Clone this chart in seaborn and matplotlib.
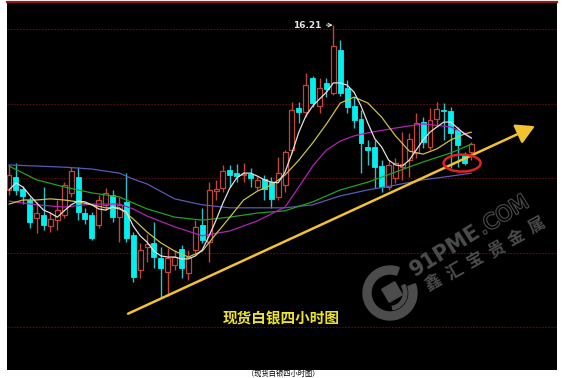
import matplotlib
matplotlib.use("Agg")
import numpy as np
import pandas as pd
import matplotlib.pyplot as plt
import seaborn as sns
from matplotlib.patches import Rectangle, Ellipse, Wedge, Polygon
import matplotlib.patheffects as pe

# ---------------- data ----------------
opens = [15.769, 15.803, 15.772, 15.742, 15.694, 15.702, 15.672, 15.688, 15.702, 15.761,
         15.803, 15.707, 15.702, 15.675, 15.729, 15.756, 15.696, 15.737, 15.649, 15.554,
         15.616, 15.627, 15.587, 15.549, 15.568, 15.611, 15.546, 15.608, 15.675, 15.630,
         15.766, 15.775, 15.822, 15.814, 15.809, 15.811, 15.777, 15.798, 15.791, 15.750,
         15.783, 15.876, 15.989, 15.978, 16.069, 15.994, 16.056, 16.029, 16.144, 16.043,
         15.994, 15.959, 15.884, 15.884, 15.833, 15.777, 15.801, 15.830, 15.849, 15.868,
         15.951, 15.884, 15.959, 15.983, 15.980, 15.930, 15.865, 15.871]
closes = [15.809, 15.769, 15.753, 15.683, 15.707, 15.675, 15.691, 15.715, 15.783, 15.819,
          15.710, 15.691, 15.641, 15.742, 15.761, 15.696, 15.729, 15.641, 15.535, 15.608,
          15.624, 15.589, 15.560, 15.587, 15.589, 15.560, 15.589, 15.669, 15.635, 15.769,
          15.772, 15.819, 15.809, 15.806, 15.811, 15.801, 15.796, 15.772, 15.745, 15.814,
          15.871, 15.983, 15.978, 16.051, 16.002, 16.043, 16.040, 16.155, 16.029, 15.991,
          15.956, 15.895, 15.876, 15.830, 15.777, 15.836, 15.841, 15.838, 15.906, 15.948,
          15.898, 15.956, 15.986, 15.980, 15.922, 15.890, 15.841, 15.892]
highs = [15.836, 15.841, 15.780, 15.750, 15.737, 15.777, 15.710, 15.742, 15.791, 15.830,
         15.830, 15.721, 15.710, 15.756, 15.775, 15.769, 15.750, 15.814, 15.657, 15.627,
         15.651, 15.683, 15.616, 15.614, 15.608, 15.622, 15.608, 15.688, 15.721, 15.791,
         15.796, 15.836, 15.836, 15.838, 15.841, 15.827, 15.806, 15.809, 15.803, 15.857,
         15.876, 16.005, 16.005, 16.082, 16.074, 16.069, 16.069, 16.211, 16.171, 16.064,
         16.018, 15.983, 15.903, 15.903, 15.849, 15.849, 15.855, 15.925, 15.922, 15.975,
         15.964, 15.989, 16.005, 16.002, 15.991, 15.937, 15.871, 15.898]
lows = [15.756, 15.756, 15.731, 15.667, 15.654, 15.662, 15.657, 15.662, 15.694, 15.750,
        15.688, 15.677, 15.635, 15.667, 15.715, 15.683, 15.630, 15.630, 15.523, 15.533,
        15.576, 15.560, 15.480, 15.485, 15.554, 15.533, 15.528, 15.600, 15.627, 15.576,
        15.742, 15.764, 15.777, 15.791, 15.791, 15.777, 15.769, 15.742, 15.721, 15.742,
        15.764, 15.868, 15.948, 15.964, 15.991, 15.975, 16.018, 16.024, 16.021, 15.975,
        15.935, 15.814, 15.836, 15.775, 15.764, 15.769, 15.788, 15.796, 15.803, 15.855,
        15.882, 15.876, 15.937, 15.903, 15.827, 15.830, 15.836, 15.849]

ma_white = [15.769, 15.788, 15.777, 15.755, 15.734, 15.715, 15.707, 15.696, 15.713, 15.729,
            15.739, 15.737, 15.729, 15.718, 15.715, 15.723, 15.718, 15.710, 15.672, 15.646,
            15.629, 15.605, 15.592, 15.589, 15.589, 15.584, 15.584, 15.592, 15.608, 15.646,
            15.688, 15.734, 15.774, 15.801, 15.814, 15.814, 15.806, 15.796, 15.790, 15.788,
            15.817, 15.868, 15.924, 15.967, 15.994, 16.013, 16.031, 16.056, 16.056, 16.050,
            16.031, 15.994, 15.948, 15.906, 15.884, 15.849, 15.836, 15.833, 15.849, 15.876,
            15.903, 15.924, 15.938, 15.951, 15.951, 15.935, 15.919, 15.908]

ma_yellow_idx = [0, 2, 4, 6, 8, 10, 12, 14, 16, 18, 20, 22, 24, 26, 28, 30, 32, 34, 36, 38,
                 40, 42, 44, 46, 48, 50, 52, 54, 56, 58, 60, 62, 64, 66, 67]
ma_yellow = [15.731, 15.742, 15.742, 15.745, 15.742, 15.737, 15.729, 15.721, 15.721, 15.691,
             15.656, 15.627, 15.605, 15.589, 15.605, 15.651, 15.696, 15.742, 15.766, 15.782,
             15.809, 15.849, 15.895, 15.946, 16.002, 16.018, 16.002, 15.964, 15.914, 15.873,
             15.865, 15.879, 15.903, 15.919, 15.924]

ma_magenta_idx = [0, 4, 8, 12, 16, 18, 20, 24, 28, 32, 36, 40, 42, 44, 46, 48, 50, 52, 56,
                  60, 64, 66, 67]
ma_magenta = [15.739, 15.729, 15.723, 15.731, 15.731, 15.718, 15.699, 15.670, 15.646, 15.659,
              15.686, 15.723, 15.777, 15.833, 15.876, 15.900, 15.914, 15.922, 15.935, 15.946,
              15.938, 15.922, 15.908]

ma_green_idx = [0, 4, 8, 12, 16, 20, 24, 28, 32, 36, 40, 44, 48, 52, 56, 60, 64, 67]
ma_green = [15.833, 15.796, 15.777, 15.761, 15.750, 15.718, 15.696, 15.688, 15.696, 15.707,
            15.713, 15.737, 15.769, 15.790, 15.817, 15.844, 15.868, 15.892]

ma_blue_idx = [0, 4, 8, 12, 16, 18, 20, 24, 28, 32, 36, 40, 44, 48, 52, 56, 60, 64, 67]
ma_blue = [15.836, 15.833, 15.830, 15.825, 15.814, 15.798, 15.785, 15.745, 15.729, 15.721,
           15.721, 15.721, 15.729, 15.753, 15.769, 15.782, 15.796, 15.806, 15.814]

grid_levels = [16.2, 16.0, 15.8, 15.6, 15.4]
peak_label = "16.21"
trend_start = (17.25, 15.437)
trend_end = (76.2, 15.940)
circle_center = (65.65, 15.841)
title_text = "现货白银四小时图"
caption_text = "（现货白银四小时图）"
wm_en_bold = "91PME"
wm_en_thin = ".COM"
wm_cn = "鑫汇宝贵金属"

# ---------------- style ----------------
sns.set_style("dark")
plt.rcParams['font.family'] = ['Noto Sans CJK SC', 'DejaVu Sans']

UP = '#c0463c'
DOWN = '#00f0f0'
DOWN_WICK = '#2fbfc4'

W, H = 565, 378
fig = plt.figure(figsize=(W / 100, H / 100), dpi=100, facecolor='white')
ax = fig.add_axes([7 / W, 8 / H, 550 / W, 368 / H])
ax.set_facecolor('black')
ax.set_xlim(-0.29, 79.4)
ax.set_ylim(15.286, 16.273)
ax.set_xticks([])
ax.set_yticks([])
ax.grid(False)
for s in ['left', 'right', 'bottom']:
    ax.spines[s].set_visible(False)
ax.spines['top'].set_color('#8a1c1c')
ax.spines['top'].set_linewidth(1.6)

for lv in grid_levels:
    ax.axhline(lv, color='#4e0f0f', lw=0.9, ls=(0, (1.5, 1)), zorder=1)

# candles
bw = 0.72
for i, (o, c, h, l) in enumerate(zip(opens, closes, highs, lows)):
    up = c >= o
    ax.vlines(i, l, h, color=UP if up else DOWN_WICK, lw=1.0, zorder=2)
    bottom = min(o, c)
    height = max(abs(c - o), 0.0015)
    if up:
        ax.add_patch(Rectangle((i - bw / 2, bottom), bw, height, facecolor='black',
                               edgecolor=UP, lw=0.9, zorder=2.5))
    else:
        ax.add_patch(Rectangle((i - bw / 2, bottom), bw, height, facecolor=DOWN,
                               edgecolor=DOWN, lw=0.6, zorder=2.5))

# moving averages
idx_all = list(range(len(ma_white)))
lines = [
    (ma_blue_idx, ma_blue, '#5a58b8'),
    (ma_green_idx, ma_green, '#22a022'),
    (ma_magenta_idx, ma_magenta, '#b022b4'),
    (ma_yellow_idx, ma_yellow, '#c8c244'),
    (idx_all, ma_white, '#e0e0e0'),
]
for xs, ys, col in lines:
    df = pd.DataFrame({'x': xs, 'y': ys})
    sns.lineplot(data=df, x='x', y='y', ax=ax, color=col, linewidth=0.9,
                 legend=False, sort=False, estimator=None, zorder=3)
ax.set_xlabel('')
ax.set_ylabel('')

# trend line with arrow
ax.annotate('', xy=trend_end, xytext=trend_start,
            arrowprops=dict(arrowstyle='-|>,head_length=0.8,head_width=0.45',
                            color='#f2c230', lw=1.8, shrinkA=0, shrinkB=0,
                            mutation_scale=14), zorder=4)

# red ellipse
ax.add_patch(Ellipse(circle_center, width=5.36, height=0.0456, facecolor='none',
                     edgecolor='#e02222', lw=1.8, zorder=5))

# peak label
ax.annotate(peak_label, xy=(46.9, highs[47]), xytext=(-8, 0), textcoords='offset points',
            ha='right', va='center', fontsize=6.5, fontweight='bold', color='#e6e6e6',
            family='DejaVu Sans',
            arrowprops=dict(arrowstyle='->', color='#e6e6e6', lw=0.7, shrinkA=1, shrinkB=0),
            zorder=6)

# title in chart
ax.text(0.498, 0.141, title_text, transform=ax.transAxes, ha='center', va='center',
        fontsize=10.5, fontweight='bold', color='#f0e428', zorder=6)

# ---------------- overlay in pixel coords (watermark, caption) ----------------
ov = fig.add_axes([0, 0, 1, 1], facecolor='none')
ov.set_xlim(0, W)
ov.set_ylim(0, H)
ov.axis('off')


def Y(y):
    return H - y


GRAY = '#4c4c4c'
cx, cy = 390, Y(293)
ov.add_patch(Wedge((cx, cy), 27, 70, 380, width=8, color=GRAY))
ov.add_patch(Wedge((cx, cy), 17, -80, 30, width=3.5, color=GRAY))
ang = np.deg2rad(30)
half = 7.5
pts = []
for k in range(4):
    a = ang + np.pi / 4 + k * np.pi / 2
    pts.append((cx + 2 + half * np.sqrt(2) * np.cos(a), cy + 1 + half * np.sqrt(2) * np.sin(a)))
ov.add_patch(Polygon(pts, closed=True, color=GRAY))

rot = 32
ov.text(415, Y(277), wm_en_bold, rotation=rot, rotation_mode='anchor', ha='left',
        va='baseline', fontsize=15, fontweight='bold', color=GRAY, family='DejaVu Sans')
ov.text(483, Y(235), wm_en_thin, rotation=rot, rotation_mode='anchor', ha='left',
        va='baseline', fontsize=15, color='black', family='DejaVu Sans',
        path_effects=[pe.withStroke(linewidth=1.6, foreground=GRAY)])

cn_start = np.array([434.0, Y(283)])
cn_step = 23.5
cn_ang = np.deg2rad(29)
for k, ch in enumerate(wm_cn):
    p = cn_start + k * cn_step * np.array([np.cos(cn_ang), np.sin(cn_ang)])
    ov.text(p[0], p[1], ch, rotation=29, rotation_mode='anchor', ha='center', va='center',
            fontsize=12, fontweight='bold', color=GRAY)

ov.text(283, Y(377.6), caption_text, ha='center', va='bottom', fontsize=5.2, color='black')

fig.savefig('out.png', dpi=100, facecolor='white')
